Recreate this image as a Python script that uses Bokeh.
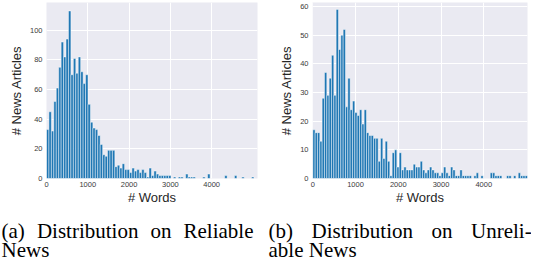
from bokeh.plotting import figure
from bokeh.models import Label, FixedTicker, Range1d
from bokeh.layouts import row, column
from bokeh.embed import file_html
from bokeh.resources import INLINE

# ---- data ----
reliable_bin_width = 59.1
reliable_counts = [33, 45, 32, 52, 61, 75, 92, 82, 94, 113,
                   70, 81, 71, 82, 72, 64, 70, 50, 38, 34,
                   33, 29, 23, 16, 15, 19, 19, 19, 8, 9,
                   7, 10, 6, 6, 4, 7, 5, 6, 4, 6,
                   4, 1, 7, 2, 5, 3, 2, 2, 2, 2,
                   2, 0, 1, 0, 1, 1, 0, 3, 1, 1,
                   1, 0, 0, 0, 1, 0, 3, 0, 0, 0,
                   0, 0, 0, 2, 0, 0, 0, 2, 0, 0,
                   1, 0, 0, 0, 1, 0]

unreliable_bin_width = 54.6
unreliable_counts = [17, 16, 16, 13, 28, 37, 29, 35, 43, 29,
                     59, 45, 50, 52, 25, 35, 24, 27, 23, 22,
                     24, 19, 24, 16, 15, 15, 14, 14, 6, 14,
                     7, 13, 6, 1, 9, 10, 4, 9, 3, 4,
                     3, 3, 3, 5, 4, 4, 6, 3, 2, 3,
                     4, 3, 2, 2, 1, 2, 4, 2, 1, 4,
                     3, 1, 1, 3, 1, 1, 1, 1, 0, 1,
                     2, 0, 1, 0, 0, 0, 2, 2, 1, 1,
                     1, 0, 0, 1, 1, 0, 1, 0, 2, 1,
                     1, 1]

x_ticks = [0, 1000, 2000, 3000, 4000]
reliable_y_ticks = [0, 20, 40, 60, 80, 100]
unreliable_y_ticks = [0, 10, 20, 30, 40, 50, 60]

x_label = "# Words"
y_label = "# News Articles"
caption_a = [["(a)", "Distribution", "on", "Reliable"], ["News"]]
caption_b = [["(b)", "Distribution", "on", "Unreli-"], ["able", "News"]]

BG = "#EAEAF2"
BAR = "#1f77b4"


def make_hist(counts, bin_width, x_range, y_end, y_ticks, width, border_left, border_right, border_top):
    p = figure(width=width, height=215,
               x_range=Range1d(*x_range), y_range=Range1d(0, y_end),
               output_backend="svg", toolbar_location=None,
               min_border_left=border_left, min_border_right=border_right,
               min_border_top=border_top, min_border_bottom=37)
    p.background_fill_color = BG
    p.border_fill_color = "white"
    p.outline_line_color = None

    lefts, rights, tops = [], [], []
    for i, c in enumerate(counts):
        if c > 0:
            lefts.append(i * bin_width)
            rights.append((i + 1) * bin_width)
            tops.append(c)
    p.quad(left=lefts, right=rights, bottom=0, top=tops,
           fill_color=BAR, line_color="white", line_width=0.5, line_alpha=0.9)

    p.xaxis.ticker = FixedTicker(ticks=x_ticks)
    p.yaxis.ticker = FixedTicker(ticks=y_ticks)
    p.grid.grid_line_color = "white"
    p.grid.grid_line_width = 1
    for ax in (p.xaxis[0], p.yaxis[0]):
        ax.axis_line_color = None
        ax.major_tick_line_color = None
        ax.minor_tick_line_color = None
        ax.major_tick_out = 0
        ax.major_tick_in = 0
        ax.minor_tick_out = 0
        ax.minor_tick_in = 0
        ax.major_label_text_font = "Liberation Sans"
        ax.major_label_text_font_size = "7.5px"
        ax.major_label_text_color = "#3a3a3a"
        ax.axis_label_text_font = "Liberation Sans"
        ax.axis_label_text_font_size = "13px"
        ax.axis_label_text_font_style = "normal"
        ax.axis_label_text_color = "#262626"
    p.xaxis.major_label_standoff = 3
    p.yaxis.major_label_standoff = 4
    p.xaxis.axis_label = x_label
    p.yaxis.axis_label = y_label
    p.xaxis.axis_label_standoff = 0
    p.yaxis.axis_label_standoff = 3
    return p


p1 = make_hist(reliable_counts, reliable_bin_width, (0, 5109), 118.7,
               reliable_y_ticks, 274, 46, 17, 2)
p2 = make_hist(unreliable_counts, unreliable_bin_width, (-7, 5022), 61.4,
               unreliable_y_ticks, 257, 38, 4, 0)

# caption strip below the two panels (picture y 215..260)
cap = figure(width=531, height=45, x_range=Range1d(0, 531), y_range=Range1d(0, 45),
             output_backend="svg", toolbar_location=None,
             x_axis_type=None, y_axis_type=None,
             min_border_left=0, min_border_right=0, min_border_top=0, min_border_bottom=0)
cap.outline_line_color = None
cap.background_fill_color = "white"
cap.border_fill_color = "white"
cap.grid.visible = False


def add_caption(lines, xs):
    middles = [230, 249]
    for words, xw, mid in zip(lines, xs, middles):
        for w, xp in zip(words, xw):
            cap.add_layout(Label(x=xp, y=260 - mid, text=w,
                                 text_font="Liberation Serif", text_font_size="21px",
                                 text_color="black", text_baseline="middle",
                                 text_align="left"))


add_caption(caption_a, [[1, 36.4, 150, 183], [1]])
add_caption(caption_b, [[268, 311, 431, 470.5], [268, 308.3]])

layout = column(row(p1, p2), cap)
open("out.html", "w").write(file_html(layout, INLINE))
